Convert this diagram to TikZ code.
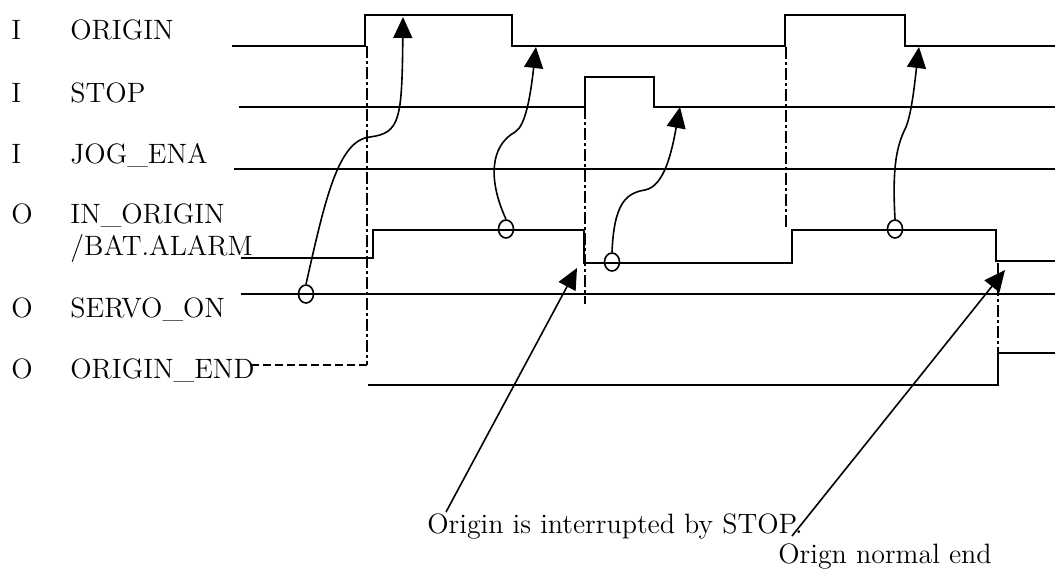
\documentclass[tikz,border=0pt]{standalone}
\usetikzlibrary{arrows.meta, shapes.geometric}

\begin{document}
\begin{tikzpicture}[x=0.5pt, y=-0.5pt,
    sig/.style={line width=0.85pt},
    edgemark/.style={line width=0.75pt, dash pattern=on 6pt off 1.5pt on 1.5pt off 1.5pt},
    guide/.style={line width=0.75pt, dash pattern=on 4pt off 2pt},
    ring/.style={draw, ellipse, line width=0.8pt, minimum width=7.5pt, minimum height=9pt, inner sep=0pt},
    cause/.style={line width=0.8pt, -{Triangle[length=10.5pt, width=9.5pt]}},
    lbl/.style={anchor=base west, inner sep=0pt, font=\fontsize{14}{17}\selectfont}]
    \useasboundingbox (0,0) rectangle (1055,569);
    %\draw[help lines] (0,0) grid[step=50] (1055,569);

    % signal names
    \foreach \k/\n/\y [count=\i] in {I/ORIGIN/39, I/STOP/102, I/JOG\_ENA/163,
        O/IN\_ORIGIN/223, O/SERVO\_ON/317, O/ORIGIN\_END/378}
    {%
        \node[lbl] (kind\i) at (11,\y) {\k};
        \node[lbl] (name\i) at (70,\y) {\n};
    }
    \node[lbl] (name4b) at (70,255) {/BAT.ALARM};

    % waveforms
    \draw[sig] (232,46) -- (365,46) -- (365,15) -- (512,15) -- (512,46) -- (785,46)
        -- (785,15) -- (905,15) -- (905,46) -- (1055,46);
    \draw[sig] (239,107) -- (585,107) -- (585,77) -- (654,77) -- (654,107) -- (1055,107);
    \draw[sig] (234,169) -- (1055,169);
    \draw[sig] (241,258) -- (373,258) -- (373,230) -- (584,230) -- (584,263) -- (792,263)
        -- (792,230) -- (996,230) -- (996,261) -- (1055,261);
    \draw[sig] (241,294) -- (1055,294);
    \draw[sig] (368,385) -- (998,385) -- (998,353) -- (1055,353);

    % timing marks
    \foreach \x/\a/\b in {367/46/365, 585/107/304, 786/47/227, 998/263/352}
        \draw[edgemark] (\x,\a) -- (\x,\b);
    \coordinate (endmark) at (367,365);
    \draw[guide] ([xshift=-2pt,yshift=6.5pt]name6.base east) -- (endmark);

    % causes
    \node[ring] (r1) at (306,294) {};
    \node[ring] (r2) at (506,229) {};
    \node[ring] (r3) at (612,262) {};
    \node[ring] (r4) at (895,229) {};
    \coordinate (t1) at (403,17);
    \coordinate (t2) at (536,47);
    \coordinate (t3) at (680,107);
    \coordinate (t4) at (919,47);
    \draw[cause] (r1.north) .. controls (325,200) and (338,140) .. (370,137)
        .. controls (400,133) and (402,120) .. (t1);
    \draw[cause] (r2.north) .. controls (488,180) and (490,146) .. (515,132)
        .. controls (525,126) and (530,100) .. (t2);
    \draw[cause] (r3.north) .. controls (614,205) and (625,193) .. (645,190)
        .. controls (665,186) and (672,150) .. (t3);
    \draw[cause] (r4.north) .. controls (892,165) and (897,145) .. (906,127)
        .. controls (912,112) and (915,80) .. (t4);

    % notes
    \node[lbl] (note1) at (427,533) {Origin is interrupted by STOP.};
    \node[lbl] (note2) at (778,563) {Orign normal end};
    \coordinate (s1) at (446,512);
    \coordinate (s2) at (792,536);
    \coordinate (t5) at (577,268);
    \coordinate (t6) at (1005,270);
    \draw[cause] (s1) -- (t5);
    \draw[cause] (s2) -- (t6);
\end{tikzpicture}
\end{document}
